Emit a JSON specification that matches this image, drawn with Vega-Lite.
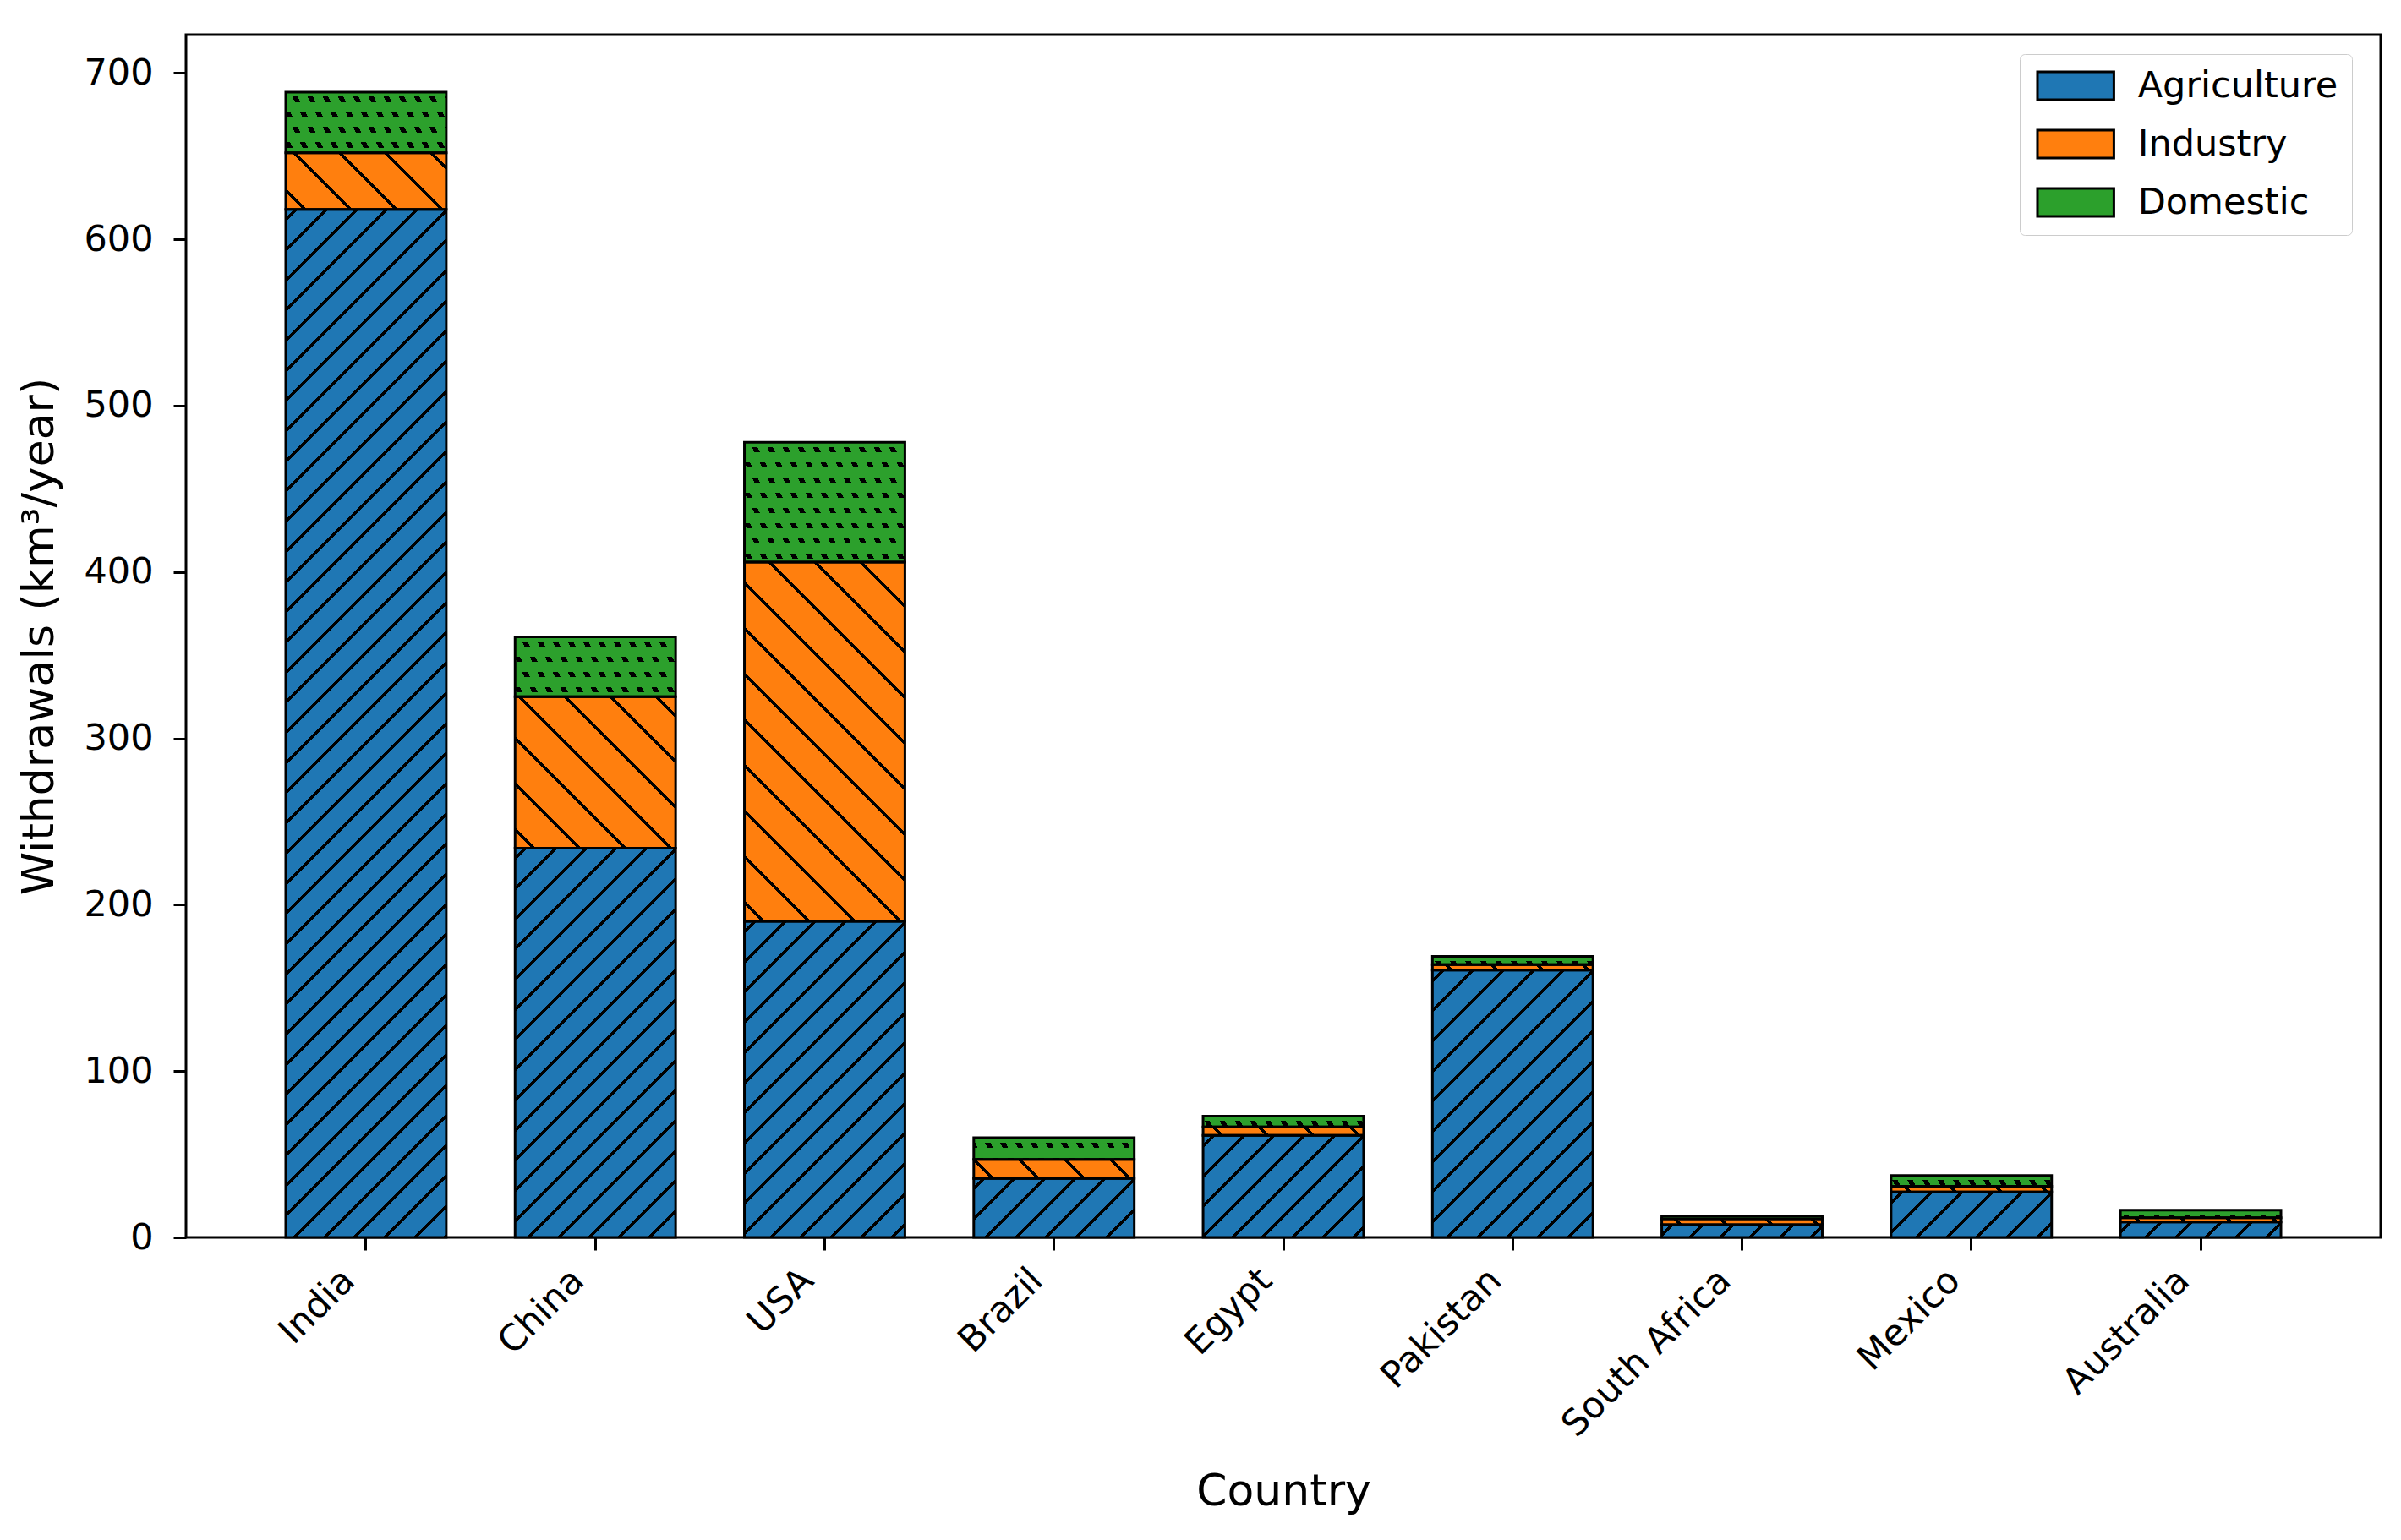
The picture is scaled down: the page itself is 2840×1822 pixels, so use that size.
{
  "$schema": "https://vega.github.io/schema/vega-lite/v6.json",
  "width": 2596,
  "height": 1423,
  "autosize": {"type": "none"},
  "padding": {"left": 220, "top": 41, "right": 24, "bottom": 358},
  "background": "white",
  "config": {
    "font": "DejaVu Sans",
    "view": {"stroke": "black", "strokeWidth": 3},
    "axis": {
      "labelFont": "DejaVu Sans",
      "titleFont": "DejaVu Sans",
      "labelFontSize": 43,
      "titleFontSize": 52,
      "titleFontWeight": "normal",
      "labelColor": "black",
      "titleColor": "black",
      "labelLimit": 1000,
      "tickColor": "black",
      "tickWidth": 3,
      "tickSize": 15,
      "domain": false,
      "grid": false
    },
    "legend": {
      "labelFont": "DejaVu Sans",
      "labelFontSize": 43,
      "labelColor": "black",
      "labelLimit": 1000
    }
  },
  "params": [
    {"name": "hatchA", "value": [
      {"offset":0.00667,"color":"rgba(0,0,0,0)"},{"offset":0.00667,"color":"#000"},{"offset":0.01000,"color":"#000"},{"offset":0.01000,"color":"rgba(0,0,0,0)"},
      {"offset":0.03047,"color":"rgba(0,0,0,0)"},{"offset":0.03047,"color":"#000"},{"offset":0.03380,"color":"#000"},{"offset":0.03380,"color":"rgba(0,0,0,0)"},
      {"offset":0.05427,"color":"rgba(0,0,0,0)"},{"offset":0.05427,"color":"#000"},{"offset":0.05760,"color":"#000"},{"offset":0.05760,"color":"rgba(0,0,0,0)"},
      {"offset":0.07807,"color":"rgba(0,0,0,0)"},{"offset":0.07807,"color":"#000"},{"offset":0.08140,"color":"#000"},{"offset":0.08140,"color":"rgba(0,0,0,0)"},
      {"offset":0.10187,"color":"rgba(0,0,0,0)"},{"offset":0.10187,"color":"#000"},{"offset":0.10520,"color":"#000"},{"offset":0.10520,"color":"rgba(0,0,0,0)"},
      {"offset":0.12567,"color":"rgba(0,0,0,0)"},{"offset":0.12567,"color":"#000"},{"offset":0.12900,"color":"#000"},{"offset":0.12900,"color":"rgba(0,0,0,0)"},
      {"offset":0.14947,"color":"rgba(0,0,0,0)"},{"offset":0.14947,"color":"#000"},{"offset":0.15280,"color":"#000"},{"offset":0.15280,"color":"rgba(0,0,0,0)"},
      {"offset":0.17327,"color":"rgba(0,0,0,0)"},{"offset":0.17327,"color":"#000"},{"offset":0.17660,"color":"#000"},{"offset":0.17660,"color":"rgba(0,0,0,0)"},
      {"offset":0.19707,"color":"rgba(0,0,0,0)"},{"offset":0.19707,"color":"#000"},{"offset":0.20040,"color":"#000"},{"offset":0.20040,"color":"rgba(0,0,0,0)"},
      {"offset":0.22087,"color":"rgba(0,0,0,0)"},{"offset":0.22087,"color":"#000"},{"offset":0.22420,"color":"#000"},{"offset":0.22420,"color":"rgba(0,0,0,0)"},
      {"offset":0.24467,"color":"rgba(0,0,0,0)"},{"offset":0.24467,"color":"#000"},{"offset":0.24800,"color":"#000"},{"offset":0.24800,"color":"rgba(0,0,0,0)"},
      {"offset":0.26847,"color":"rgba(0,0,0,0)"},{"offset":0.26847,"color":"#000"},{"offset":0.27180,"color":"#000"},{"offset":0.27180,"color":"rgba(0,0,0,0)"},
      {"offset":0.29227,"color":"rgba(0,0,0,0)"},{"offset":0.29227,"color":"#000"},{"offset":0.29560,"color":"#000"},{"offset":0.29560,"color":"rgba(0,0,0,0)"},
      {"offset":0.31607,"color":"rgba(0,0,0,0)"},{"offset":0.31607,"color":"#000"},{"offset":0.31940,"color":"#000"},{"offset":0.31940,"color":"rgba(0,0,0,0)"},
      {"offset":0.33987,"color":"rgba(0,0,0,0)"},{"offset":0.33987,"color":"#000"},{"offset":0.34320,"color":"#000"},{"offset":0.34320,"color":"rgba(0,0,0,0)"},
      {"offset":0.36367,"color":"rgba(0,0,0,0)"},{"offset":0.36367,"color":"#000"},{"offset":0.36700,"color":"#000"},{"offset":0.36700,"color":"rgba(0,0,0,0)"},
      {"offset":0.38747,"color":"rgba(0,0,0,0)"},{"offset":0.38747,"color":"#000"},{"offset":0.39080,"color":"#000"},{"offset":0.39080,"color":"rgba(0,0,0,0)"},
      {"offset":0.41127,"color":"rgba(0,0,0,0)"},{"offset":0.41127,"color":"#000"},{"offset":0.41460,"color":"#000"},{"offset":0.41460,"color":"rgba(0,0,0,0)"},
      {"offset":0.43507,"color":"rgba(0,0,0,0)"},{"offset":0.43507,"color":"#000"},{"offset":0.43840,"color":"#000"},{"offset":0.43840,"color":"rgba(0,0,0,0)"},
      {"offset":0.45887,"color":"rgba(0,0,0,0)"},{"offset":0.45887,"color":"#000"},{"offset":0.46220,"color":"#000"},{"offset":0.46220,"color":"rgba(0,0,0,0)"},
      {"offset":0.48267,"color":"rgba(0,0,0,0)"},{"offset":0.48267,"color":"#000"},{"offset":0.48600,"color":"#000"},{"offset":0.48600,"color":"rgba(0,0,0,0)"},
      {"offset":0.50647,"color":"rgba(0,0,0,0)"},{"offset":0.50647,"color":"#000"},{"offset":0.50980,"color":"#000"},{"offset":0.50980,"color":"rgba(0,0,0,0)"},
      {"offset":0.53027,"color":"rgba(0,0,0,0)"},{"offset":0.53027,"color":"#000"},{"offset":0.53360,"color":"#000"},{"offset":0.53360,"color":"rgba(0,0,0,0)"},
      {"offset":0.55407,"color":"rgba(0,0,0,0)"},{"offset":0.55407,"color":"#000"},{"offset":0.55740,"color":"#000"},{"offset":0.55740,"color":"rgba(0,0,0,0)"},
      {"offset":0.57787,"color":"rgba(0,0,0,0)"},{"offset":0.57787,"color":"#000"},{"offset":0.58120,"color":"#000"},{"offset":0.58120,"color":"rgba(0,0,0,0)"},
      {"offset":0.60167,"color":"rgba(0,0,0,0)"},{"offset":0.60167,"color":"#000"},{"offset":0.60500,"color":"#000"},{"offset":0.60500,"color":"rgba(0,0,0,0)"},
      {"offset":0.62547,"color":"rgba(0,0,0,0)"},{"offset":0.62547,"color":"#000"},{"offset":0.62880,"color":"#000"},{"offset":0.62880,"color":"rgba(0,0,0,0)"},
      {"offset":0.64927,"color":"rgba(0,0,0,0)"},{"offset":0.64927,"color":"#000"},{"offset":0.65260,"color":"#000"},{"offset":0.65260,"color":"rgba(0,0,0,0)"},
      {"offset":0.67307,"color":"rgba(0,0,0,0)"},{"offset":0.67307,"color":"#000"},{"offset":0.67640,"color":"#000"},{"offset":0.67640,"color":"rgba(0,0,0,0)"},
      {"offset":0.69687,"color":"rgba(0,0,0,0)"},{"offset":0.69687,"color":"#000"},{"offset":0.70020,"color":"#000"},{"offset":0.70020,"color":"rgba(0,0,0,0)"},
      {"offset":0.72067,"color":"rgba(0,0,0,0)"},{"offset":0.72067,"color":"#000"},{"offset":0.72400,"color":"#000"},{"offset":0.72400,"color":"rgba(0,0,0,0)"},
      {"offset":0.74447,"color":"rgba(0,0,0,0)"},{"offset":0.74447,"color":"#000"},{"offset":0.74780,"color":"#000"},{"offset":0.74780,"color":"rgba(0,0,0,0)"},
      {"offset":0.76827,"color":"rgba(0,0,0,0)"},{"offset":0.76827,"color":"#000"},{"offset":0.77160,"color":"#000"},{"offset":0.77160,"color":"rgba(0,0,0,0)"},
      {"offset":0.79207,"color":"rgba(0,0,0,0)"},{"offset":0.79207,"color":"#000"},{"offset":0.79540,"color":"#000"},{"offset":0.79540,"color":"rgba(0,0,0,0)"},
      {"offset":0.81587,"color":"rgba(0,0,0,0)"},{"offset":0.81587,"color":"#000"},{"offset":0.81920,"color":"#000"},{"offset":0.81920,"color":"rgba(0,0,0,0)"},
      {"offset":0.83967,"color":"rgba(0,0,0,0)"},{"offset":0.83967,"color":"#000"},{"offset":0.84300,"color":"#000"},{"offset":0.84300,"color":"rgba(0,0,0,0)"},
      {"offset":0.86347,"color":"rgba(0,0,0,0)"},{"offset":0.86347,"color":"#000"},{"offset":0.86680,"color":"#000"},{"offset":0.86680,"color":"rgba(0,0,0,0)"},
      {"offset":0.88727,"color":"rgba(0,0,0,0)"},{"offset":0.88727,"color":"#000"},{"offset":0.89060,"color":"#000"},{"offset":0.89060,"color":"rgba(0,0,0,0)"},
      {"offset":0.91107,"color":"rgba(0,0,0,0)"},{"offset":0.91107,"color":"#000"},{"offset":0.91440,"color":"#000"},{"offset":0.91440,"color":"rgba(0,0,0,0)"},
      {"offset":0.93487,"color":"rgba(0,0,0,0)"},{"offset":0.93487,"color":"#000"},{"offset":0.93820,"color":"#000"},{"offset":0.93820,"color":"rgba(0,0,0,0)"},
      {"offset":0.95867,"color":"rgba(0,0,0,0)"},{"offset":0.95867,"color":"#000"},{"offset":0.96200,"color":"#000"},{"offset":0.96200,"color":"rgba(0,0,0,0)"}
    ]},
    {"name": "hatchI", "value": [
      {"offset":0.02857,"color":"rgba(0,0,0,0)"},{"offset":0.02857,"color":"#000"},{"offset":0.03571,"color":"#000"},{"offset":0.03571,"color":"rgba(0,0,0,0)"},
      {"offset":0.10571,"color":"rgba(0,0,0,0)"},{"offset":0.10571,"color":"#000"},{"offset":0.11285,"color":"#000"},{"offset":0.11285,"color":"rgba(0,0,0,0)"},
      {"offset":0.18286,"color":"rgba(0,0,0,0)"},{"offset":0.18286,"color":"#000"},{"offset":0.19000,"color":"#000"},{"offset":0.19000,"color":"rgba(0,0,0,0)"},
      {"offset":0.26000,"color":"rgba(0,0,0,0)"},{"offset":0.26000,"color":"#000"},{"offset":0.26714,"color":"#000"},{"offset":0.26714,"color":"rgba(0,0,0,0)"},
      {"offset":0.33714,"color":"rgba(0,0,0,0)"},{"offset":0.33714,"color":"#000"},{"offset":0.34428,"color":"#000"},{"offset":0.34428,"color":"rgba(0,0,0,0)"},
      {"offset":0.41429,"color":"rgba(0,0,0,0)"},{"offset":0.41429,"color":"#000"},{"offset":0.42143,"color":"#000"},{"offset":0.42143,"color":"rgba(0,0,0,0)"},
      {"offset":0.49143,"color":"rgba(0,0,0,0)"},{"offset":0.49143,"color":"#000"},{"offset":0.49857,"color":"#000"},{"offset":0.49857,"color":"rgba(0,0,0,0)"},
      {"offset":0.56857,"color":"rgba(0,0,0,0)"},{"offset":0.56857,"color":"#000"},{"offset":0.57571,"color":"#000"},{"offset":0.57571,"color":"rgba(0,0,0,0)"},
      {"offset":0.64571,"color":"rgba(0,0,0,0)"},{"offset":0.64571,"color":"#000"},{"offset":0.65285,"color":"#000"},{"offset":0.65285,"color":"rgba(0,0,0,0)"},
      {"offset":0.72286,"color":"rgba(0,0,0,0)"},{"offset":0.72286,"color":"#000"},{"offset":0.73000,"color":"#000"},{"offset":0.73000,"color":"rgba(0,0,0,0)"},
      {"offset":0.80000,"color":"rgba(0,0,0,0)"},{"offset":0.80000,"color":"#000"},{"offset":0.80714,"color":"#000"},{"offset":0.80714,"color":"rgba(0,0,0,0)"},
      {"offset":0.87714,"color":"rgba(0,0,0,0)"},{"offset":0.87714,"color":"#000"},{"offset":0.88428,"color":"#000"},{"offset":0.88428,"color":"rgba(0,0,0,0)"},
      {"offset":0.95429,"color":"rgba(0,0,0,0)"},{"offset":0.95429,"color":"#000"},{"offset":0.96143,"color":"#000"},{"offset":0.96143,"color":"rgba(0,0,0,0)"}
    ]},
    {"name": "dotRows", "value": [
      {"offset":0.0275,"color":"rgba(0,0,0,0)"},{"offset":0.0275,"color":"#000"},{"offset":0.0600,"color":"#000"},{"offset":0.0600,"color":"rgba(0,0,0,0)"},
      {"offset":0.1175,"color":"rgba(0,0,0,0)"},{"offset":0.1175,"color":"#000"},{"offset":0.1500,"color":"#000"},{"offset":0.1500,"color":"rgba(0,0,0,0)"},
      {"offset":0.2075,"color":"rgba(0,0,0,0)"},{"offset":0.2075,"color":"#000"},{"offset":0.2400,"color":"#000"},{"offset":0.2400,"color":"rgba(0,0,0,0)"},
      {"offset":0.2975,"color":"rgba(0,0,0,0)"},{"offset":0.2975,"color":"#000"},{"offset":0.3300,"color":"#000"},{"offset":0.3300,"color":"rgba(0,0,0,0)"},
      {"offset":0.3875,"color":"rgba(0,0,0,0)"},{"offset":0.3875,"color":"#000"},{"offset":0.4200,"color":"#000"},{"offset":0.4200,"color":"rgba(0,0,0,0)"},
      {"offset":0.4775,"color":"rgba(0,0,0,0)"},{"offset":0.4775,"color":"#000"},{"offset":0.5100,"color":"#000"},{"offset":0.5100,"color":"rgba(0,0,0,0)"},
      {"offset":0.5675,"color":"rgba(0,0,0,0)"},{"offset":0.5675,"color":"#000"},{"offset":0.6000,"color":"#000"},{"offset":0.6000,"color":"rgba(0,0,0,0)"},
      {"offset":0.6575,"color":"rgba(0,0,0,0)"},{"offset":0.6575,"color":"#000"},{"offset":0.6900,"color":"#000"},{"offset":0.6900,"color":"rgba(0,0,0,0)"},
      {"offset":0.7475,"color":"rgba(0,0,0,0)"},{"offset":0.7475,"color":"#000"},{"offset":0.7800,"color":"#000"},{"offset":0.7800,"color":"rgba(0,0,0,0)"},
      {"offset":0.8375,"color":"rgba(0,0,0,0)"},{"offset":0.8375,"color":"#000"},{"offset":0.8700,"color":"#000"},{"offset":0.8700,"color":"rgba(0,0,0,0)"},
      {"offset":0.9275,"color":"rgba(0,0,0,0)"},{"offset":0.9275,"color":"#000"},{"offset":0.9600,"color":"#000"},{"offset":0.9600,"color":"rgba(0,0,0,0)"}
    ]},
    {"name": "dotCols", "value": [
      {"offset":0.01786,"color":"#2ca02c"},{"offset":0.01786,"color":"rgba(0,0,0,0)"},{"offset":0.04107,"color":"rgba(0,0,0,0)"},{"offset":0.04107,"color":"#2ca02c"},
      {"offset":0.08214,"color":"#2ca02c"},{"offset":0.08214,"color":"rgba(0,0,0,0)"},{"offset":0.10536,"color":"rgba(0,0,0,0)"},{"offset":0.10536,"color":"#2ca02c"},
      {"offset":0.14643,"color":"#2ca02c"},{"offset":0.14643,"color":"rgba(0,0,0,0)"},{"offset":0.16964,"color":"rgba(0,0,0,0)"},{"offset":0.16964,"color":"#2ca02c"},
      {"offset":0.21071,"color":"#2ca02c"},{"offset":0.21071,"color":"rgba(0,0,0,0)"},{"offset":0.23393,"color":"rgba(0,0,0,0)"},{"offset":0.23393,"color":"#2ca02c"},
      {"offset":0.27500,"color":"#2ca02c"},{"offset":0.27500,"color":"rgba(0,0,0,0)"},{"offset":0.29821,"color":"rgba(0,0,0,0)"},{"offset":0.29821,"color":"#2ca02c"},
      {"offset":0.33929,"color":"#2ca02c"},{"offset":0.33929,"color":"rgba(0,0,0,0)"},{"offset":0.36250,"color":"rgba(0,0,0,0)"},{"offset":0.36250,"color":"#2ca02c"},
      {"offset":0.40357,"color":"#2ca02c"},{"offset":0.40357,"color":"rgba(0,0,0,0)"},{"offset":0.42679,"color":"rgba(0,0,0,0)"},{"offset":0.42679,"color":"#2ca02c"},
      {"offset":0.46786,"color":"#2ca02c"},{"offset":0.46786,"color":"rgba(0,0,0,0)"},{"offset":0.49107,"color":"rgba(0,0,0,0)"},{"offset":0.49107,"color":"#2ca02c"},
      {"offset":0.53214,"color":"#2ca02c"},{"offset":0.53214,"color":"rgba(0,0,0,0)"},{"offset":0.55536,"color":"rgba(0,0,0,0)"},{"offset":0.55536,"color":"#2ca02c"},
      {"offset":0.59643,"color":"#2ca02c"},{"offset":0.59643,"color":"rgba(0,0,0,0)"},{"offset":0.61964,"color":"rgba(0,0,0,0)"},{"offset":0.61964,"color":"#2ca02c"},
      {"offset":0.66071,"color":"#2ca02c"},{"offset":0.66071,"color":"rgba(0,0,0,0)"},{"offset":0.68393,"color":"rgba(0,0,0,0)"},{"offset":0.68393,"color":"#2ca02c"},
      {"offset":0.72500,"color":"#2ca02c"},{"offset":0.72500,"color":"rgba(0,0,0,0)"},{"offset":0.74821,"color":"rgba(0,0,0,0)"},{"offset":0.74821,"color":"#2ca02c"},
      {"offset":0.78929,"color":"#2ca02c"},{"offset":0.78929,"color":"rgba(0,0,0,0)"},{"offset":0.81250,"color":"rgba(0,0,0,0)"},{"offset":0.81250,"color":"#2ca02c"},
      {"offset":0.85357,"color":"#2ca02c"},{"offset":0.85357,"color":"rgba(0,0,0,0)"},{"offset":0.87679,"color":"rgba(0,0,0,0)"},{"offset":0.87679,"color":"#2ca02c"},
      {"offset":0.91786,"color":"#2ca02c"},{"offset":0.91786,"color":"rgba(0,0,0,0)"},{"offset":0.94107,"color":"rgba(0,0,0,0)"},{"offset":0.94107,"color":"#2ca02c"},
      {"offset":0.98214,"color":"#2ca02c"},{"offset":0.98214,"color":"rgba(0,0,0,0)"}
    ]}
  ],
  "data": {
    "values": [
      {"country": "India", "sector": "Agriculture", "value": 618},
      {"country": "India", "sector": "Industry", "value": 34},
      {"country": "India", "sector": "Domestic", "value": 36.5},
      {"country": "China", "sector": "Agriculture", "value": 234},
      {"country": "China", "sector": "Industry", "value": 91},
      {"country": "China", "sector": "Domestic", "value": 36},
      {"country": "USA", "sector": "Agriculture", "value": 190},
      {"country": "USA", "sector": "Industry", "value": 216},
      {"country": "USA", "sector": "Domestic", "value": 72},
      {"country": "Brazil", "sector": "Agriculture", "value": 35.5},
      {"country": "Brazil", "sector": "Industry", "value": 11.4},
      {"country": "Brazil", "sector": "Domestic", "value": 13},
      {"country": "Egypt", "sector": "Agriculture", "value": 61.3},
      {"country": "Egypt", "sector": "Industry", "value": 5.1},
      {"country": "Egypt", "sector": "Domestic", "value": 6.5},
      {"country": "Pakistan", "sector": "Agriculture", "value": 160.7},
      {"country": "Pakistan", "sector": "Industry", "value": 3.3},
      {"country": "Pakistan", "sector": "Domestic", "value": 5},
      {"country": "South Africa", "sector": "Agriculture", "value": 7.6},
      {"country": "South Africa", "sector": "Industry", "value": 3.6},
      {"country": "South Africa", "sector": "Domestic", "value": 1.8},
      {"country": "Mexico", "sector": "Agriculture", "value": 27.3},
      {"country": "Mexico", "sector": "Industry", "value": 3.4},
      {"country": "Mexico", "sector": "Domestic", "value": 6.5},
      {"country": "Australia", "sector": "Agriculture", "value": 9.3},
      {"country": "Australia", "sector": "Industry", "value": 2.5},
      {"country": "Australia", "sector": "Domestic", "value": 4.6}
    ]
  },
  "transform": [
    {"calculate": "indexof(['Agriculture', 'Industry', 'Domestic'], datum.sector)", "as": "k"},
    {"stack": "value", "groupby": ["country"], "sort": [{"field": "k", "order": "ascending"}], "as": ["v0", "v1"]}
  ],
  "encoding": {
    "x": {
      "field": "country",
      "type": "nominal",
      "sort": null,
      "scale": {"paddingInner": 0.3, "paddingOuter": 0.435},
      "axis": {
        "title": "Country",
        "labelAngle": -45,
        "labelAlign": "right",
        "labelBaseline": "top",
        "labelPadding": 14,
        "labelOffset": -35,
        "titlePadding": 75
      }
    },
    "y": {
      "field": "v0",
      "type": "quantitative",
      "scale": {"domain": [0, 723], "nice": false, "zero": true},
      "axis": {
        "title": "Withdrawals (km³/year)",
        "values": [0, 100, 200, 300, 400, 500, 600, 700],
        "labelPadding": 24,
        "titlePadding": 25
      }
    },
    "y2": {"field": "v1"}
  },
  "layer": [
    {
      "mark": {"type": "bar"},
      "encoding": {
        "color": {
          "field": "sector",
          "type": "nominal",
          "scale": {"domain": ["Agriculture", "Industry", "Domestic"], "range": ["#1f77b4", "#ff7f0e", "#2ca02c"]},
          "legend": {
            "title": null,
            "orient": "none",
            "legendX": 2169,
            "legendY": 23,
            "symbolType": "M-2.74,-1L2.74,-1L2.74,1L-2.74,1Z",
            "symbolSize": 1089,
            "symbolStrokeColor": "black",
            "symbolStrokeWidth": 3,
            "symbolOpacity": 1,
            "symbolOffset": 28.7,
            "labelOffset": 52,
            "rowPadding": 24,
            "padding": 16,
            "strokeColor": "#cccccc",
            "fillColor": "white",
            "cornerRadius": 6
          }
        }
      }
    },
    {
      "mark": {
        "type": "bar",
        "fill": {"expr": "datum.sector === 'Agriculture' ? {gradient: 'linear', x1: 0, y1: 0, x2: 1500*bandwidth('x')/(bandwidth('x')*bandwidth('x')+(scale('y',datum.v0)-scale('y',datum.v1))*(scale('y',datum.v0)-scale('y',datum.v1))), y2: 1500*(scale('y',datum.v0)-scale('y',datum.v1))/(bandwidth('x')*bandwidth('x')+(scale('y',datum.v0)-scale('y',datum.v1))*(scale('y',datum.v0)-scale('y',datum.v1))), stops: hatchA} : datum.sector === 'Industry' ? {gradient: 'linear', x1: 0, y1: 1, x2: 700*bandwidth('x')/(bandwidth('x')*bandwidth('x')+(scale('y',datum.v0)-scale('y',datum.v1))*(scale('y',datum.v0)-scale('y',datum.v1))), y2: 1-700*(scale('y',datum.v0)-scale('y',datum.v1))/(bandwidth('x')*bandwidth('x')+(scale('y',datum.v0)-scale('y',datum.v1))*(scale('y',datum.v0)-scale('y',datum.v1))), stops: hatchI} : {gradient: 'linear', x1: 0, y1: 0, x2: 0, y2: 200/(scale('y',datum.v0)-scale('y',datum.v1)), stops: dotRows}"}
      }
    },
    {
      "mark": {
        "type": "bar",
        "fill": {"expr": "datum.sector === 'Domestic' ? {gradient: 'linear', x1: 0, y1: 1, x2: 1120*bandwidth('x')/(4*bandwidth('x')*bandwidth('x')+(scale('y',datum.v0)-scale('y',datum.v1))*(scale('y',datum.v0)-scale('y',datum.v1))), y2: 1-560*(scale('y',datum.v0)-scale('y',datum.v1))/(4*bandwidth('x')*bandwidth('x')+(scale('y',datum.v0)-scale('y',datum.v1))*(scale('y',datum.v0)-scale('y',datum.v1))), stops: dotCols} : 'rgba(0,0,0,0)'"}
      }
    },
    {
      "mark": {"type": "bar", "fillOpacity": 0, "stroke": "black", "strokeWidth": 3}
    }
  ]
}
